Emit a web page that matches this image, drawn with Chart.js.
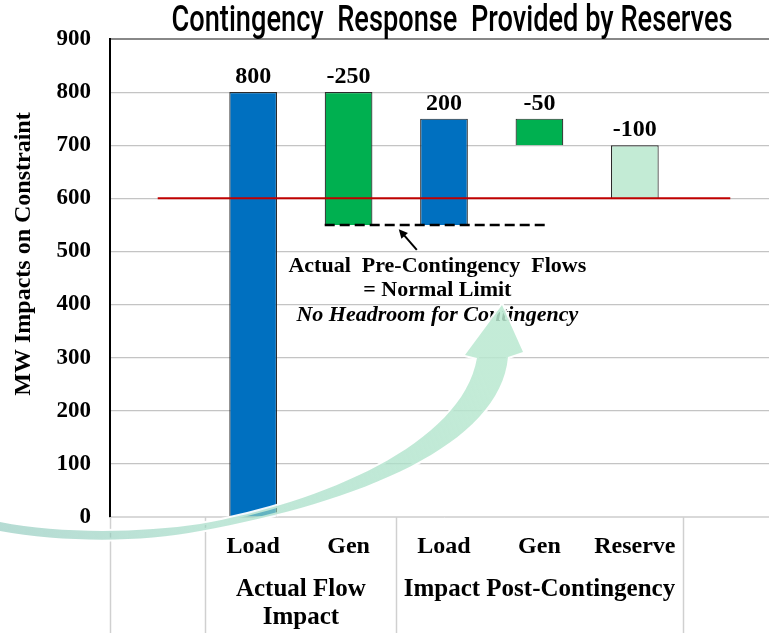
<!DOCTYPE html>
<html>
<head>
<meta charset="utf-8">
<script src="https://cdn.jsdelivr.net/npm/chart.js@4.4.1/dist/chart.umd.min.js"></script>
<style>
html, body { margin: 0; padding: 0; background: #fff; overflow: hidden; }
#wrap { width: 779px; height: 633px; }
</style>
</head>
<body>
<div id="wrap"><canvas id="chart"></canvas></div>
<script>
// categories (first and last are empty spacer columns)
const categories = ['', 'Load', 'Gen', 'Load', 'Gen', 'Reserve', ''];
const impacts = [null, 800, -250, 200, -50, -100, null];
const barColors = [null, '#0070C0', '#00B050', '#0070C0', '#00B050', '#C3EBD5', null];

// group labels under the category labels
const groupLabels = [['Actual Flow', 'Impact'], ['Impact Post-Contingency']];
const groupRanges = [[1, 2], [3, 5]];
const dividerAt = [-0.5, 0.5, 2.5, 5.5];

// limit line and pre-contingency flow line
const limitLine = [600, 600, 600, 600, 600, 600, 600];
const preFlowLine = [{ x: 1.75, y: 550 }, { x: 4.1, y: 550 }];

const titleText = 'Contingency  Response  Provided by Reserves';
const yTitle = 'MW Impacts on Constraint';
const noteLines = ['Actual Pre-Contingency Flows', '= Normal Limit', 'No Headroom for Contingency'];

const SERIF = '"Liberation Serif", "Times New Roman", serif';

// waterfall: each bar floats from the previous running total
let total = 0;
const bars = impacts.map(v => {
    if (v === null) return null;
    const r = [total, total + v];
    total += v;
    return r;
});

const overlay = {
    id: 'overlay',
    afterDatasetsDraw(chart) {
        const { ctx, scales } = chart;
        const x = scales.x, x2 = scales.x2, y = scales.y;
        ctx.save();
        ctx.fillStyle = '#000';
        ctx.textAlign = 'center';
        ctx.textBaseline = 'middle';

        // condensed title
        ctx.font = '500 37px Roboto, "Liberation Sans", sans-serif';
        const tw = ctx.measureText(titleText).width;
        ctx.save();
        ctx.translate(452, 22);
        ctx.scale(561 / tw, 1);
        ctx.fillText(titleText, 0, 0);
        ctx.restore();

        // y axis title
        ctx.save();
        ctx.font = 'bold 24px ' + SERIF;
        ctx.translate(24, 254);
        ctx.rotate(-Math.PI / 2);
        ctx.fillText(yTitle, 0, 0);
        ctx.restore();

        // value labels over bars
        ctx.font = 'bold 24px ' + SERIF;
        bars.forEach((b, i) => {
            if (!b) return;
            const top = y.getPixelForValue(Math.max(b[0], b[1]));
            ctx.fillText(String(impacts[i]), x.getPixelForValue(i), top - 15);
        });

        // note text
        const nx = x2.getPixelForValue(2.93);
        ctx.font = 'bold 22px ' + SERIF;
        ctx.fillText(noteLines[0].replace(/ /g, '  '), nx, y.getPixelForValue(472));
        ctx.fillText(noteLines[1], nx, y.getPixelForValue(427));
        ctx.font = 'italic bold 22px ' + SERIF;
        ctx.fillText(noteLines[2], nx, y.getPixelForValue(379));

        // small arrow to the dashed line
        const tx = x2.getPixelForValue(2.715), ty = y.getPixelForValue(503);
        const hx = x2.getPixelForValue(2.526), hy = y.getPixelForValue(542);
        const ang = Math.atan2(hy - ty, hx - tx);
        ctx.strokeStyle = '#000';
        ctx.lineWidth = 2;
        ctx.beginPath();
        ctx.moveTo(tx, ty);
        ctx.lineTo(hx - 4 * Math.cos(ang), hy - 4 * Math.sin(ang));
        ctx.stroke();
        ctx.beginPath();
        ctx.moveTo(hx, hy);
        ctx.lineTo(hx - 10 * Math.cos(ang - 0.45), hy - 10 * Math.sin(ang - 0.45));
        ctx.lineTo(hx - 10 * Math.cos(ang + 0.45), hy - 10 * Math.sin(ang + 0.45));
        ctx.closePath();
        ctx.fill();

        // dividers and group labels below the axis
        const bottom = chart.chartArea.bottom;
        ctx.strokeStyle = '#D0D0D0';
        ctx.lineWidth = 1.5;
        dividerAt.forEach(d => {
            const px = Math.round(x2.getPixelForValue(d)) + 0.5;
            ctx.beginPath();
            ctx.moveTo(px, bottom);
            ctx.lineTo(px, chart.height);
            ctx.stroke();
        });
        ctx.font = 'bold 25px ' + SERIF;
        groupLabels.forEach((lines, g) => {
            const [a, b] = groupRanges[g];
            const cx = (x.getPixelForValue(a) + x.getPixelForValue(b)) / 2;
            lines.forEach((t, k) => ctx.fillText(t, cx, bottom + 73 + k * 28));
        });
        ctx.restore();
    },
    afterDraw(chart) {
        // decorative swoosh arrow
        const ctx = chart.ctx;
        ctx.save();
        const grad = ctx.createLinearGradient(0, 530, 470, 340);
        grad.addColorStop(0, 'rgba(120,190,175,0.55)');
        grad.addColorStop(0.4, 'rgba(150,215,190,0.6)');
        grad.addColorStop(1, 'rgba(185,232,208,0.85)');
        ctx.beginPath();
        ctx.moveTo(0, 522);
        ctx.bezierCurveTo(60, 534, 140, 533, 200, 524);
        ctx.bezierCurveTo(320, 503, 462, 445, 477, 358);
        ctx.lineTo(465, 355);
        ctx.lineTo(502, 305);
        ctx.lineTo(523, 352);
        ctx.lineTo(508, 357);
        ctx.bezierCurveTo(500, 445, 360, 502, 200, 531);
        ctx.bezierCurveTo(140, 543, 60, 542, 0, 531);
        ctx.closePath();
        ctx.strokeStyle = 'rgba(255,255,255,0.95)';
        ctx.lineWidth = 4;
        ctx.lineJoin = 'round';
        ctx.stroke();
        ctx.fillStyle = grad;
        ctx.fill();
        ctx.restore();
    }
};

new Chart(document.getElementById('chart'), {
    data: {
        labels: categories,
        datasets: [
            {
                type: 'line',
                data: limitLine,
                borderColor: '#C00000',
                borderWidth: 2,
                pointRadius: 0,
                order: 1
            },
            {
                type: 'line',
                data: preFlowLine,
                xAxisID: 'x2',
                borderColor: '#000',
                borderWidth: 2.5,
                borderDash: [10, 5],
                pointRadius: 0,
                order: 0
            },
            {
                type: 'bar',
                data: bars,
                backgroundColor: barColors,
                borderColor: '#2B2B2B',
                borderWidth: 1.2,
                grouped: false,
                categoryPercentage: 1,
                barPercentage: 0.5,
                order: 2
            }
        ]
    },
    options: {
        responsive: true,
        maintainAspectRatio: false,
        animation: false,
        layout: { padding: { left: 0, right: 1, top: 39, bottom: 0 } },
        plugins: {
            legend: { display: false },
            tooltip: { enabled: false },
            title: { display: false }
        },
        scales: {
            x: {
                type: 'category',
                grid: { display: false, drawTicks: false },
                border: { display: true, color: '#D9D9D9' },
                ticks: {
                    color: '#000',
                    font: { family: SERIF, size: 24, weight: 'bold' },
                    padding: 15,
                    autoSkip: false,
                    maxRotation: 0
                },
                afterFit: s => { s.height = 116; }
            },
            x2: {
                type: 'linear',
                display: false,
                min: -0.5,
                max: 6.5
            },
            y: {
                min: 0,
                max: 900,
                ticks: {
                    stepSize: 100,
                    color: '#000',
                    font: { family: SERIF, size: 23, weight: 'bold' },
                    padding: 19
                },
                grid: {
                    drawTicks: false,
                    color: c => c.tick.value === 900 ? '#888888' : (c.tick.value === 0 ? '#D9D9D9' : '#C4C4C4'),
                    lineWidth: c => c.tick.value === 900 ? 2 : 1.2
                },
                border: { color: '#000', width: 2 },
                afterFit: s => { s.width = 110; }
            }
        }
    },
    plugins: [overlay]
});
</script>
</body>
</html>
